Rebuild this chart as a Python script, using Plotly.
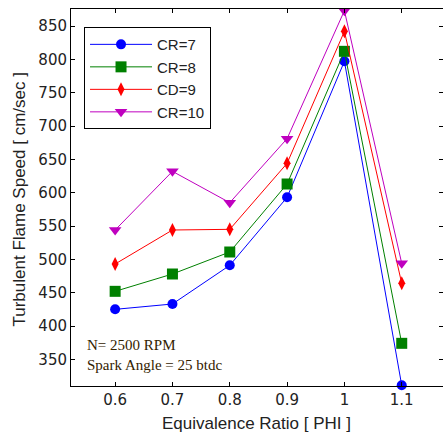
import plotly.graph_objects as go

phi = [0.6, 0.7, 0.8, 0.9, 1.0, 1.1]
cr7 = [425, 433, 491, 593, 797, 311]
cr8 = [452, 478, 511, 613, 812, 374]
cd9 = [493, 544, 545, 644, 842, 464]
cr10 = [544, 632, 585, 681, 873, 494]

names = ["CR=7", "CR=8", "CD=9", "CR=10"]
series = [cr7, cr8, cd9, cr10]
colors = ["#0000ff", "#008000", "#ff0000", "#bf00bf"]
symbols = ["circle", "square", "diamond-tall", "triangle-down"]
sizes = [10, 11, 10, 11]

fig = go.Figure()
for n, s, c, sym, sz in zip(names, series, colors, symbols, sizes):
    fig.add_trace(go.Scatter(
        x=phi, y=s, name=n, mode="lines+markers",
        line=dict(color=c, width=1),
        marker=dict(symbol=sym, size=sz, color=c, line=dict(width=0)),
        cliponaxis=False,
    ))

tickfont = dict(family="DejaVu Sans, sans-serif", size=15, color="#222222")
titlefont = dict(family="Liberation Sans, Arial, sans-serif", size=17, color="#222222")
fig.update_layout(
    width=443, height=437,
    margin=dict(l=71, r=0, t=9, b=51),
    paper_bgcolor="white", plot_bgcolor="white",
    showlegend=True,
    legend=dict(
        x=0.035, y=0.952, xanchor="left", yanchor="top",
        bgcolor="white", bordercolor="black", borderwidth=1,
        font=dict(family="Liberation Sans, Arial, sans-serif", size=15, color="#222222"),
        tracegroupgap=0, itemwidth=62, entrywidth=60, entrywidthmode="pixels",
    ),
    xaxis=dict(
        range=[0.523, 1.172], tickvals=phi,
        ticktext=["0.6", "0.7", "0.8", "0.9", "1", "1.1"],
        ticks="inside", ticklen=4, tickcolor="black", tickfont=tickfont,
        showline=True, linecolor="black", linewidth=1, mirror="ticks",
        showgrid=False, zeroline=False, automargin=False,
    ),
    yaxis=dict(
        range=[310, 875.5], tickvals=[350, 400, 450, 500, 550, 600, 650, 700, 750, 800, 850],
        ticks="inside", ticklen=4, tickcolor="black", tickfont=tickfont,
        showline=True, linecolor="black", linewidth=1, mirror="ticks",
        showgrid=False, zeroline=False, automargin=False,
    ),
)

# axis titles placed as annotations in paper coordinates
fig.add_annotation(
    xref="paper", yref="paper", x=(256.5 - 71) / 372, y=-(423 - 386) / 377,
    xanchor="center", yanchor="middle", showarrow=False,
    text="Equivalence Ratio [ PHI ]", font=titlefont,
)
fig.add_annotation(
    xref="paper", yref="paper", x=-(71 - 19) / 372, y=(386 - 199.5) / 377,
    xanchor="center", yanchor="middle", showarrow=False, textangle=-90,
    text="Turbulent Flame Speed [ cm/sec ]", font=titlefont,
)

fig.add_annotation(
    xref="paper", yref="paper", x=0.038, y=0.081, xanchor="left", yanchor="middle",
    text="N= 2500 RPM<br>Spark Angle = 25 btdc", showarrow=False, align="left",
    font=dict(family="Liberation Serif, Times New Roman, serif", size=15, color="#332200"),
)

fig.write_html(
    "out.html",
    config={"displayModeBar": False},
    post_script="document.body.style.margin='0';document.body.style.overflow='hidden';",
)
